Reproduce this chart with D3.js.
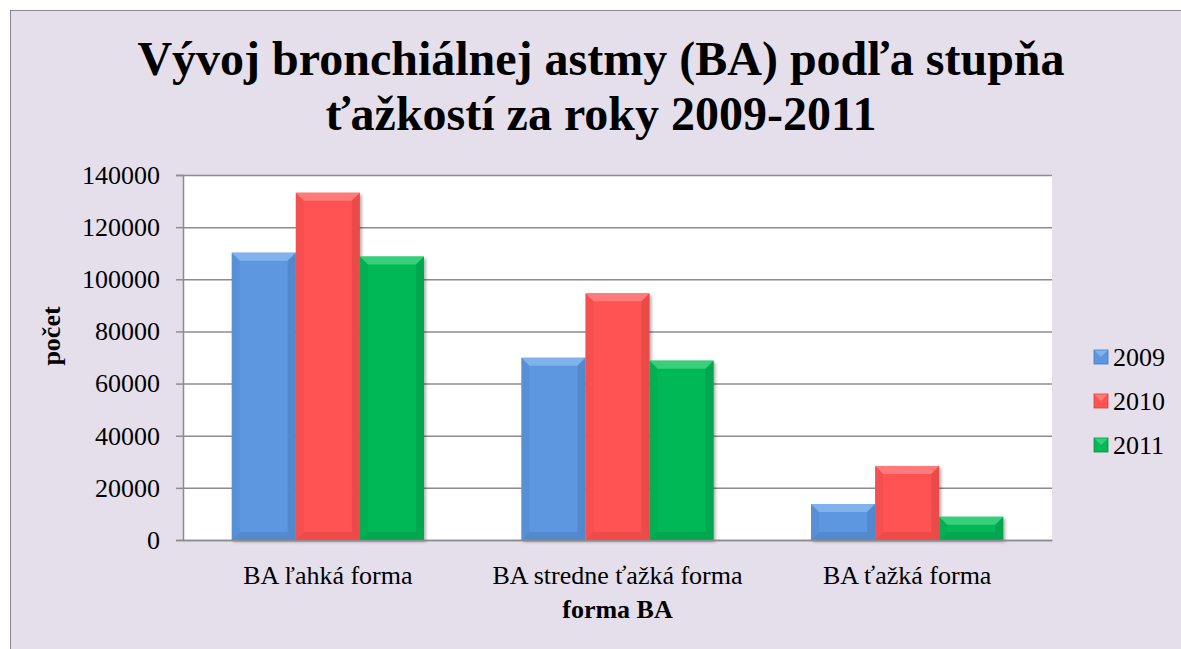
<!DOCTYPE html>
<html>
<head>
<meta charset="utf-8">
<script src="https://cdn.jsdelivr.net/npm/d3@7"></script>
<style>
  body { margin: 0; background: #fff; }
  svg text { font-family: "Liberation Serif", "Times New Roman", serif; fill: #000; }
</style>
</head>
<body>
<div id="chart"></div>
<script>
const width = 1181;
const height = 649;

const categories = ["BA ľahká forma", "BA stredne ťažká forma", "BA ťažká forma"];
const years = ["2009", "2010", "2011"];
const values2009 = [110200, 69900, 13800];
const values2010 = [133200, 94600, 28400];
const values2011 = [108700, 68800, 8900];
const yTicks = [0, 20000, 40000, 60000, 80000, 100000, 120000, 140000];

const series = [values2009, values2010, values2011];
const colors = ["#5b97df", "#ff5353", "#06b854"];
const lights = ["#80b2ec", "#ff7b7b", "#37cf79"];
const darks = ["#4578b5", "#d43f3f", "#03924a"];

const plot = { left: 183, right: 1052, top: 175, bottom: 540 };

const svg = d3
  .select("#chart")
  .append("svg")
  .attr("width", width)
  .attr("height", height);

const defs = svg.append("defs");
defs
  .append("filter")
  .attr("id", "shadow")
  .attr("x", "-10%")
  .attr("y", "-10%")
  .attr("width", "130%")
  .attr("height", "130%")
  .append("feDropShadow")
  .attr("dx", 2)
  .attr("dy", 2)
  .attr("stdDeviation", 1.5)
  .attr("flood-color", "#000")
  .attr("flood-opacity", 0.3);

// chart frame
svg
  .append("rect")
  .attr("x", 10.5)
  .attr("y", 10.5)
  .attr("width", 1300)
  .attr("height", 800)
  .attr("fill", "#e5dfec")
  .attr("stroke", "#8a8a8a");

// plot area
svg
  .append("rect")
  .attr("x", plot.left)
  .attr("y", plot.top)
  .attr("width", plot.right - plot.left)
  .attr("height", plot.bottom - plot.top)
  .attr("fill", "#fff");

const y = d3.scaleLinear().domain([0, 140000]).range([plot.bottom, plot.top]);

const x0 = d3.scaleBand().domain(categories).range([plot.left, plot.right]).padding(0);

const x1 = d3
  .scaleBand()
  .domain(years)
  .range([0, x0.bandwidth()])
  .paddingInner(0)
  .paddingOuter(0.76);

// gridlines
svg
  .append("g")
  .attr("class", "grid")
  .attr("transform", `translate(${plot.left},0)`)
  .call(d3.axisLeft(y).tickValues(yTicks).tickSize(-(plot.right - plot.left)).tickFormat(""))
  .call((g) => g.select(".domain").remove())
  .call((g) => g.selectAll("line").attr("stroke", "#8c8c8c").attr("stroke-width", 1.5));

// y axis
svg
  .append("g")
  .attr("transform", `translate(${plot.left},0)`)
  .call(d3.axisLeft(y).tickValues(yTicks).tickSize(7).tickPadding(16).tickFormat(d3.format("d")))
  .call((g) => g.select(".domain").attr("stroke", "#8c8c8c").attr("stroke-width", 1.5))
  .call((g) => g.selectAll("line").attr("stroke", "#8c8c8c").attr("stroke-width", 1.5))
  .call((g) =>
    g.selectAll("text").attr("font-size", 26).style("font-family", '"Liberation Serif", serif')
  );

// bars
const bevel = 8;
categories.forEach((cat, ci) => {
  years.forEach((yr, si) => {
    const bx = x0(cat) + x1(yr);
    const bw = x1.bandwidth();
    const by = y(series[si][ci]);
    const bh = y(0) - by;
    const b = Math.min(bevel, bh / 2);
    const g = svg.append("g").attr("class", "bar");

    g.append("rect")
      .attr("x", bx)
      .attr("y", by)
      .attr("width", bw)
      .attr("height", bh)
      .attr("fill", colors[si])
      .attr("filter", "url(#shadow)");

    // top bevel
    g.append("path")
      .attr("d", `M${bx},${by}L${bx + bw},${by}L${bx + bw - b},${by + b}L${bx + b},${by + b}Z`)
      .attr("fill", lights[si]);
    // right bevel
    g.append("path")
      .attr("d", `M${bx + bw},${by}L${bx + bw},${by + bh}L${bx + bw - b},${by + bh - b}L${bx + bw - b},${by + b}Z`)
      .attr("fill", darks[si])
      .attr("opacity", 0.45);
    // left bevel
    g.append("path")
      .attr("d", `M${bx},${by}L${bx + b},${by + b}L${bx + b},${by + bh - b}L${bx},${by + bh}Z`)
      .attr("fill", darks[si])
      .attr("opacity", 0.2);
    // bottom bevel
    g.append("path")
      .attr("d", `M${bx},${by + bh}L${bx + b},${by + bh - b}L${bx + bw - b},${by + bh - b}L${bx + bw},${by + bh}Z`)
      .attr("fill", darks[si])
      .attr("opacity", 0.4);
  });
});

// x axis
svg
  .append("g")
  .attr("transform", `translate(0,${plot.bottom})`)
  .call(d3.axisBottom(x0).tickSize(0).tickPadding(26))
  .call((g) => g.select(".domain").attr("stroke", "#8c8c8c").attr("stroke-width", 1.5))
  .call((g) =>
    g.selectAll("text").attr("font-size", 26).style("font-family", '"Liberation Serif", serif')
  );

// title
const title = svg
  .append("text")
  .attr("text-anchor", "middle")
  .attr("font-size", 48)
  .attr("font-weight", "bold");
title.append("tspan").attr("x", 601).attr("y", 75).text("Vývoj bronchiálnej astmy (BA) podľa stupňa");
title.append("tspan").attr("x", 601).attr("y", 130).text("ťažkostí za roky 2009-2011");

// axis titles
svg
  .append("text")
  .attr("x", (plot.left + plot.right) / 2)
  .attr("y", 618)
  .attr("text-anchor", "middle")
  .attr("font-size", 26)
  .attr("font-weight", "bold")
  .text("forma BA");

svg
  .append("text")
  .attr("transform", "translate(60,336) rotate(-90)")
  .attr("text-anchor", "middle")
  .attr("font-size", 26)
  .attr("font-weight", "bold")
  .text("počet");

// legend
const legendY = [357, 401, 445];
const legend = svg
  .append("g")
  .selectAll("g")
  .data(years)
  .enter()
  .append("g")
  .attr("transform", (d, i) => `translate(1094,${legendY[i]})`);

legend
  .append("rect")
  .attr("x", 0)
  .attr("y", -7)
  .attr("width", 14)
  .attr("height", 14)
  .attr("fill", (d, i) => colors[i])
  .attr("stroke", (d, i) => darks[i])
  .attr("stroke-width", 0.8);

legend
  .append("path")
  .attr("d", "M0.5,-6.5L13.5,-6.5L7,0Z")
  .attr("fill", (d, i) => lights[i]);

legend
  .append("text")
  .attr("x", 19)
  .attr("dy", "0.35em")
  .attr("font-size", 26)
  .text((d) => d);
</script>
</body>
</html>
